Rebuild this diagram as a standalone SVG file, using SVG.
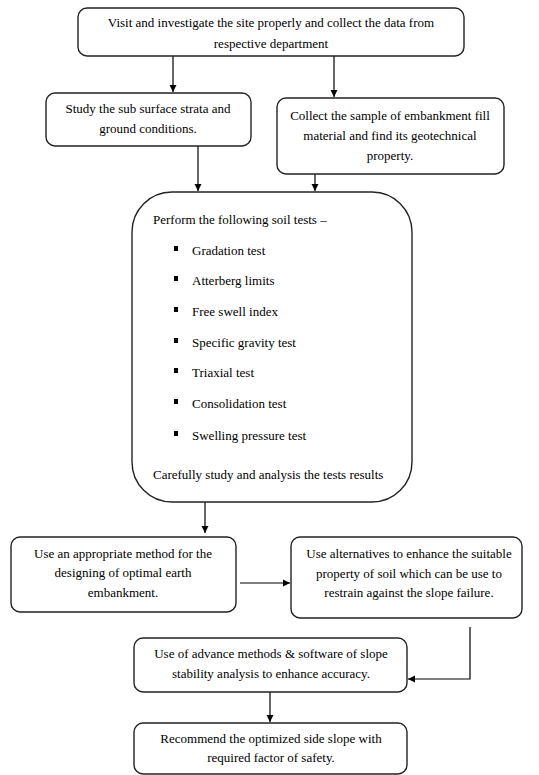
<svg xmlns="http://www.w3.org/2000/svg" width="539" height="775" viewBox="0 0 539 775">
<defs>
<marker id="ah" markerWidth="8" markerHeight="8" refX="7" refY="4" orient="auto" markerUnits="userSpaceOnUse">
<path d="M0,0.5 L7,4 L0,7.5 Z" fill="#000"/>
</marker>
<style>
.box{fill:#fff;stroke:#222;stroke-width:1.4}
.t{font-family:"Liberation Serif","Times New Roman",serif;font-size:13px;fill:#000}
.m{text-anchor:middle}
.c{fill:none;stroke:#000;stroke-width:1.2;marker-end:url(#ah)}
</style>
</defs>
<rect width="539" height="775" fill="#fff"/>
<g id="connectors">
<path class="c" d="M173,56 V92"/>
<path class="c" d="M334,56 V97"/>
<path class="c" d="M198,146 V191"/>
<path class="c" d="M315,174 V191"/>
<path class="c" d="M205,502 V533"/>
<path class="c" d="M240,583 H290"/>
<path class="c" d="M470,627 V679 H408"/>
<path class="c" d="M270,692 V722"/>
</g>
<g id="n1">
<rect class="box" x="78" y="8" width="386" height="48" rx="9"/>
<text class="t m" x="271" y="27">Visit and investigate the site properly and collect the data from</text>
<text class="t m" x="271" y="48">respective department</text>
</g>
<g id="n2">
<rect class="box" x="46" y="93" width="205" height="53" rx="9"/>
<text class="t m" x="148" y="113">Study the sub surface strata and</text>
<text class="t m" x="148" y="133">ground conditions.</text>
</g>
<g id="n3">
<rect class="box" x="277" y="98" width="227" height="76" rx="9"/>
<text class="t m" x="390" y="120">Collect the sample of embankment fill</text>
<text class="t m" x="390" y="140">material and find its geotechnical</text>
<text class="t m" x="390" y="160">property.</text>
</g>
<g id="n4">
<rect class="box" x="132" y="192" width="280" height="310" rx="40"/>
<text class="t" x="153" y="224">Perform the following soil tests –</text>
<g>
<rect x="174" y="246" width="4" height="5" fill="#000"/>
<text class="t" x="192" y="255">Gradation test</text>
<rect x="174" y="276" width="4" height="5" fill="#000"/>
<text class="t" x="192" y="285">Atterberg limits</text>
<rect x="174" y="307" width="4" height="5" fill="#000"/>
<text class="t" x="192" y="316">Free swell index</text>
<rect x="174" y="338" width="4" height="5" fill="#000"/>
<text class="t" x="192" y="347">Specific gravity test</text>
<rect x="174" y="368" width="4" height="5" fill="#000"/>
<text class="t" x="192" y="377">Triaxial test</text>
<rect x="174" y="399" width="4" height="5" fill="#000"/>
<text class="t" x="192" y="408">Consolidation test</text>
<rect x="174" y="431" width="4" height="5" fill="#000"/>
<text class="t" x="192" y="440">Swelling pressure test</text>
</g>
<text class="t" x="153" y="479">Carefully study and analysis the tests results</text>
</g>
<g id="n5">
<rect class="box" x="11" y="537" width="225" height="75" rx="9"/>
<text class="t m" x="123" y="558">Use an appropriate method for the</text>
<text class="t m" x="123" y="577">designing of optimal earth</text>
<text class="t m" x="123" y="597">embankment.</text>
</g>
<g id="n6">
<rect class="box" x="291" y="537" width="231" height="81" rx="9"/>
<text class="t m" x="409" y="558">Use alternatives to enhance the suitable</text>
<text class="t m" x="409" y="578">property of soil which can be use to</text>
<text class="t m" x="409" y="597">restrain against the slope failure.</text>
</g>
<g id="n7">
<rect class="box" x="134" y="638" width="273" height="54" rx="9"/>
<text class="t m" x="271" y="658">Use of advance methods &amp; software of slope</text>
<text class="t m" x="271" y="678">stability analysis to enhance accuracy.</text>
</g>
<g id="n8">
<rect class="box" x="134" y="723" width="273" height="51" rx="9"/>
<text class="t m" x="271" y="743">Recommend the optimized side slope with</text>
<text class="t m" x="271" y="762">required factor of safety.</text>
</g>
</svg>
